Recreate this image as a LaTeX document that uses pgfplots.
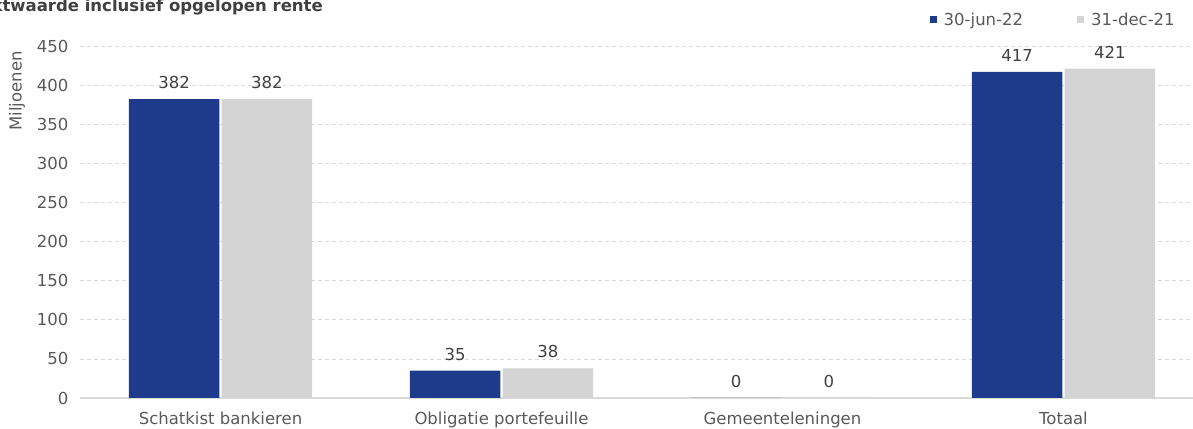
\documentclass[border=0pt]{standalone}
\usepackage{pgfplots}
\pgfplotsset{compat=1.18}
\usepackage{fontspec}
\setmainfont{DejaVu Sans}
\definecolor{cblue}{HTML}{1E3A8A}
\definecolor{cgray}{HTML}{D4D4D4}
\definecolor{ctext}{HTML}{595959}
\definecolor{cdark}{HTML}{404040}
\definecolor{cgrid}{HTML}{D9D9D9}
\begin{document}
\begin{tikzpicture}
\useasboundingbox (0,0) rectangle (1193pt,428pt);
\clip (0,0) rectangle (1193pt,428pt);
\begin{axis}[
  at={(80pt,30pt)}, anchor=south west,
  scale only axis, width=1124pt, height=352pt,
  xmin=-0.5, xmax=3.5, ymin=0, ymax=450,
  ytick={0,50,...,450},
  xtick={0,1,2,3},
  xticklabels={Schatkist bankieren,Obligatie portefeuille,Gemeenteleningen,Totaal},
  extra x ticks={-0.5,0.5,1.5,2.5,3.5},
  extra x tick labels={},
  extra x tick style={major tick length=6pt, tick align=outside, tick style={draw=cgrid, line width=0.8pt}, grid=none},
  major x tick style={draw=none},
  axis x line*=bottom,
  axis y line=left,
  y axis line style={draw=none},
  x axis line style={draw=cgrid, line width=1.2pt, -},
  ytick style={draw=none},
  ymajorgrids,
  grid style={draw=cgrid, dashed, dash pattern=on 4pt off 3pt, line width=0.6pt},
  tick label style={font=\fontsize{16.5}{18}\selectfont, text=ctext},
  yticklabel style={xshift=-6pt},
  xticklabel style={yshift=-6pt},
  /pgf/number format/assume math mode=true,
  ybar, bar width=0.322,
  nodes near coords,
  every node near coord/.append style={font=\fontsize{16.5}{18}\selectfont, text=cdark, anchor=south, inner sep=0pt, yshift=10pt},
  legend columns=2,
  legend style={at={(0.9786,1.074)}, anchor=east, draw=none, fill=none,
    font=\fontsize{16.5}{18}\selectfont, text=ctext,
    /tikz/every even column/.append style={column sep=52pt}},
  legend image code/.code={\fill[#1] (0pt,-3.5pt) rectangle (7pt,3.5pt); \path (12pt,0pt);},
]
\addplot[fill=cblue, draw=none, bar shift=-0.165] coordinates {(0,382) (1,35) (2,0) (3,417)};
\addplot[fill=cgray, draw=none, bar shift=0.165] coordinates {(0,382) (1,38) (2,0) (3,421)};
\legend{30-jun-22,31-dec-21}
\end{axis}
\node[rotate=90, text=ctext, font=\fontsize{16.5}{18}\selectfont] at (17pt,337pt) {Miljoenen};
\node[anchor=base east, text=cdark, font=\bfseries\fontsize{16.5}{18}\selectfont, inner sep=0pt] at (323pt,416pt) {Marktwaarde inclusief opgelopen rente};
\end{tikzpicture}
\end{document}
